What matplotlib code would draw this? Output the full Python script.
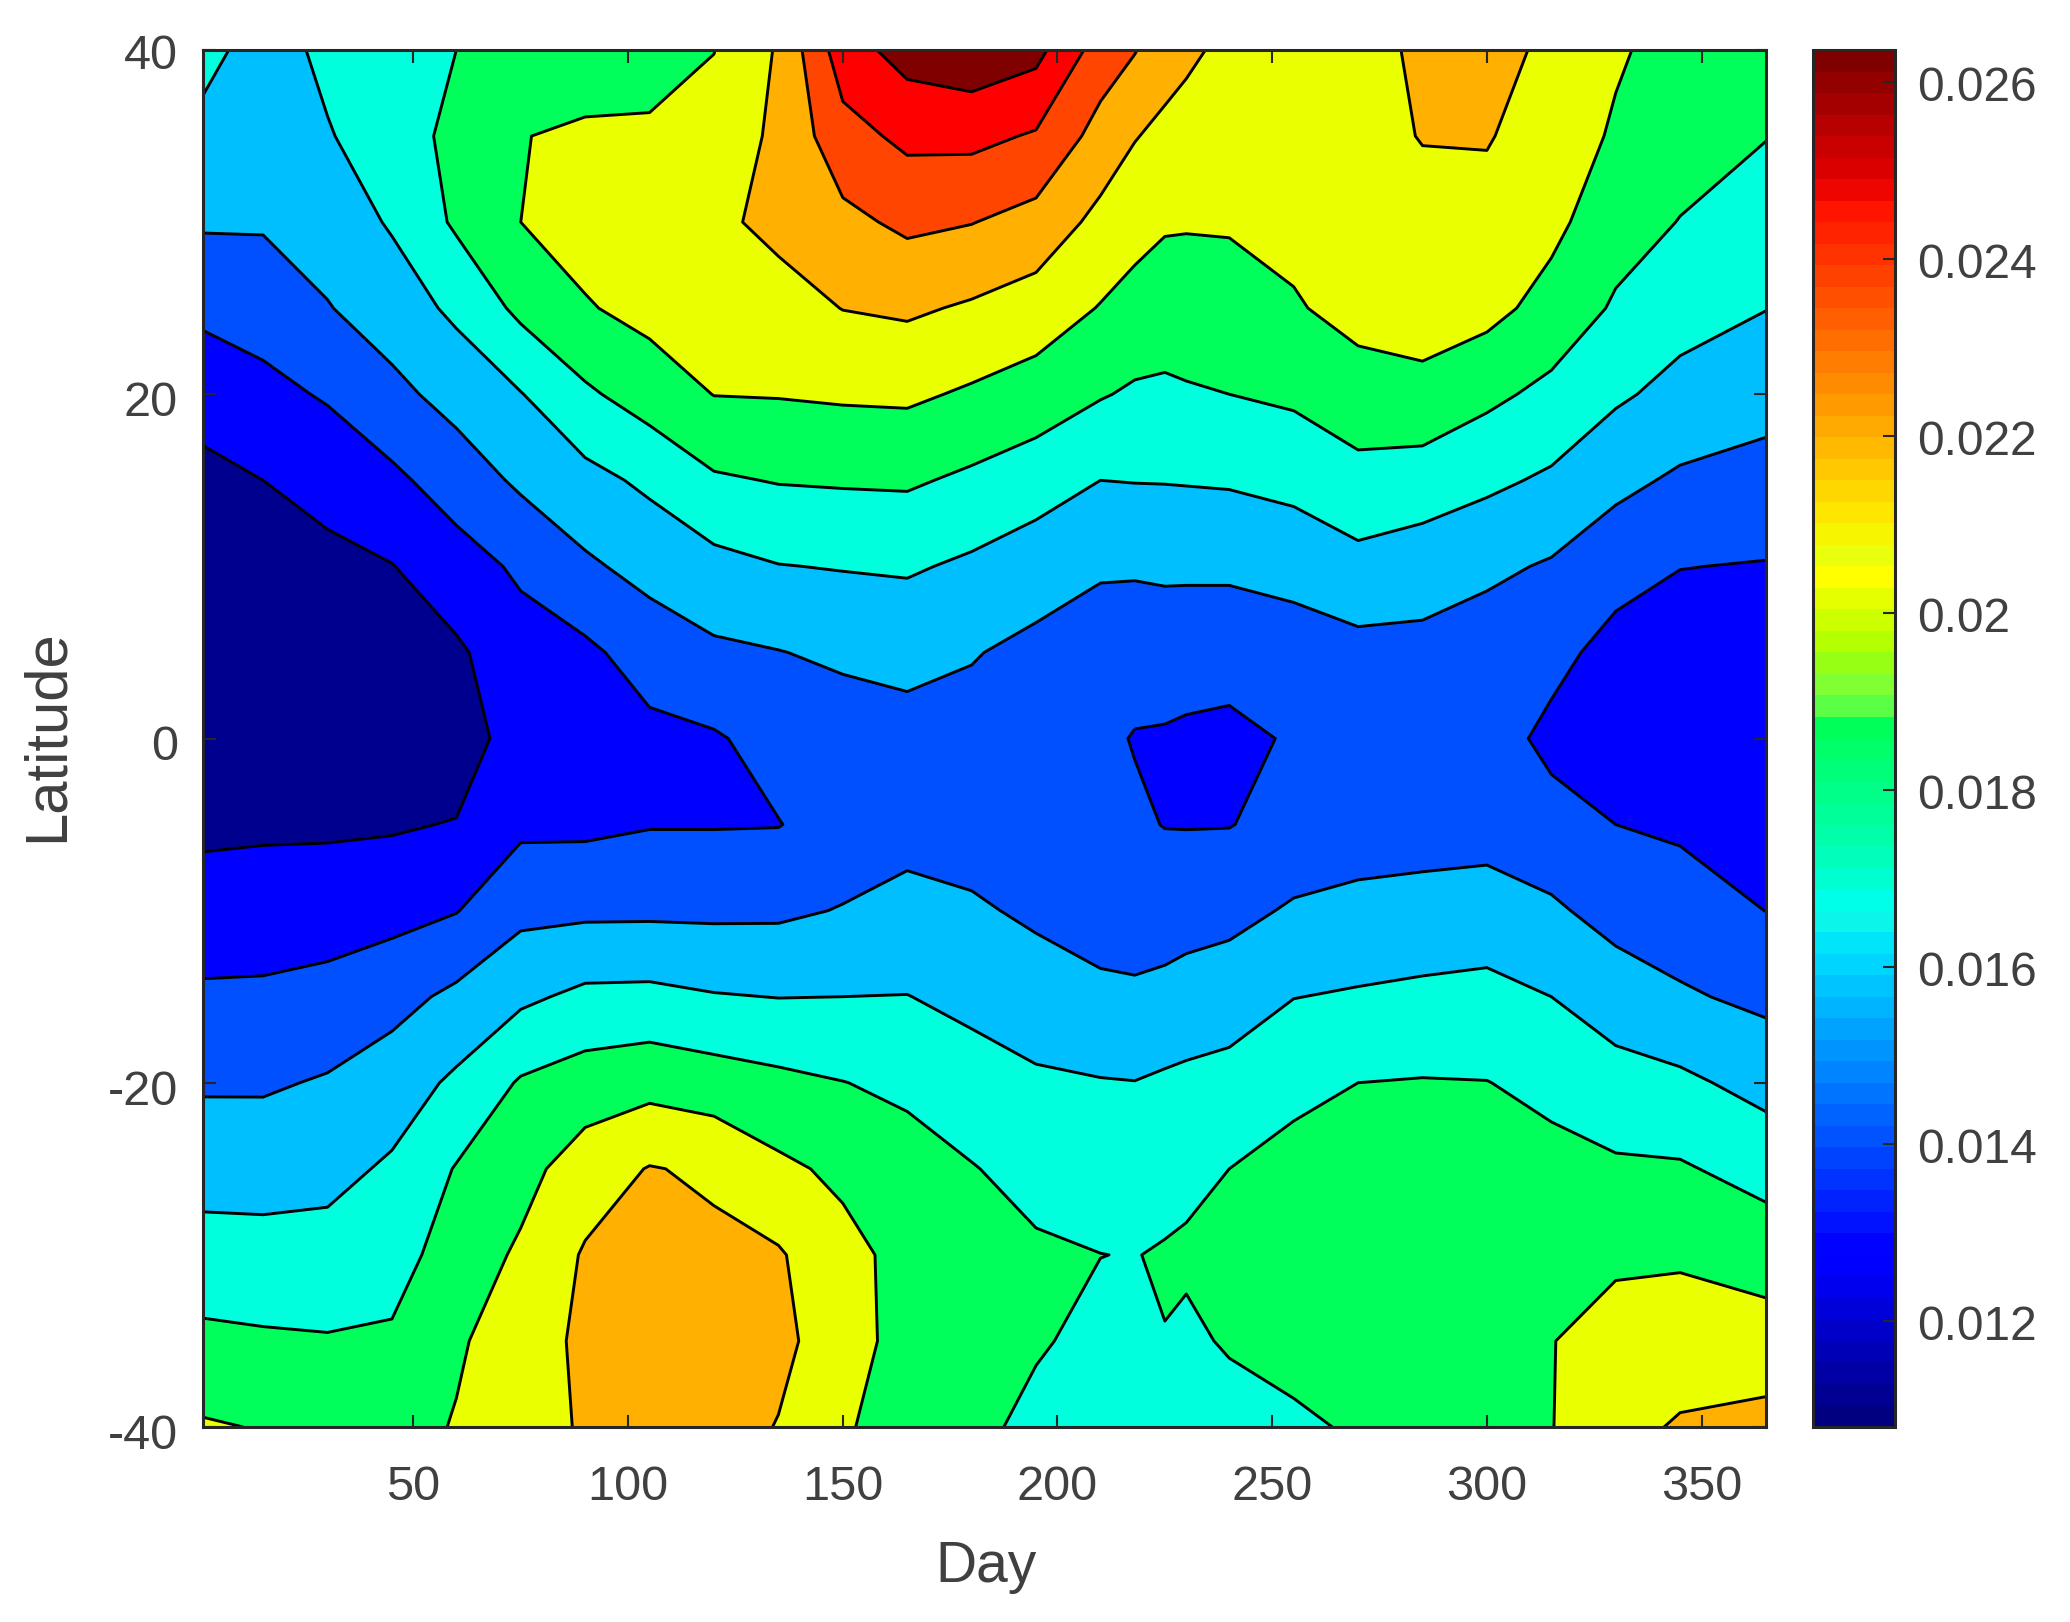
import numpy as np
import matplotlib
matplotlib.use('Agg')
import matplotlib.pyplot as plt
from matplotlib.colors import ListedColormap, to_rgba
from matplotlib.transforms import ScaledTranslation

plt.rcParams['font.family'] = ['Liberation Sans', 'DejaVu Sans']
plt.rcParams['axes.unicode_minus'] = False

# Field, in multiples of the contour step above the minimum
latitude = [40, 35, 30, 25, 20, 15, 10, 5, 0, -5, -10, -15, -20, -25, -30, -35, -40]
days = [1, 15, 30, 45, 60, 75, 90, 105, 120, 135, 150, 165, 180, 195, 210, 218, 225, 230,
        240, 255, 270, 285, 300, 315, 330, 345, 365]

d1 = [4.3, 3.73, 3.11, 2.24, 1.31, 0.79, 0.47, 0.2, 0.3, 0.8, 1.43, 2.15, 2.88, 3.61, 4.39, 5.22, 6.1]
d15 = [3.6, 3.55, 3.1, 2.43, 1.72, 1.0, 0.6, 0.3, 0.3, 0.85, 1.47, 2.17, 2.88, 3.6, 4.35, 5.13, 5.95]
d30 = [4.2, 3.94, 3.45, 2.95, 2.1, 1.33, 0.75, 0.4, 0.4, 0.85, 1.55, 2.31, 3.09, 3.71, 4.36, 5.07, 5.8]
d45 = [4.75, 4.45, 4.1, 3.49, 2.74, 1.79, 0.97, 0.6, 0.6, 0.9, 1.68, 2.67, 3.49, 4.14, 4.62, 5.13, 5.7]
d60 = [5.0, 5.3, 5.15, 4.2, 3.35, 2.46, 1.58, 0.85, 0.4, 1.05, 1.96, 3.21, 4.18, 5.06, 5.44, 5.9, 6.05]
d75 = [5.55, 5.98, 6.0, 5.23, 3.96, 3.17, 2.16, 1.6, 1.55, 1.8, 2.75, 3.81, 5.1, 5.67, 6.15, 6.4, 6.6]
d90 = [5.65, 6.1, 6.4, 5.92, 4.84, 3.7, 2.84, 1.8, 1.6, 1.8, 2.81, 4.22, 5.46, 6.5, 7.1, 7.25, 7.1]
d105 = [5.6, 6.15, 6.5, 6.3, 5.46, 4.19, 3.32, 2.44, 1.75, 1.95, 2.82, 4.25, 5.67, 7.05, 7.4, 7.6, 7.6]
d120 = [5.98, 6.4, 6.8, 6.5, 6.02, 4.88, 3.7, 2.83, 1.9, 1.95, 2.81, 4.06, 5.46, 6.85, 7.2, 7.5, 7.5]
d135 = [7.1, 7.2, 7.25, 6.62, 6.05, 5.05, 3.97, 2.97, 2.35, 1.97, 2.83, 3.98, 5.23, 6.2, 7.1, 7.3, 6.95]
d150 = [9.55, 8.63, 7.75, 7.02, 6.13, 5.1, 4.05, 3.17, 2.5, 2.4, 3.05, 4.0, 5.02, 5.8, 6.3, 6.35, 6.05]
d165 = [10.4, 9.23, 8.2, 7.15, 6.17, 5.13, 4.12, 3.25, 2.7, 2.7, 3.26, 4.02, 4.8, 5.4, 5.7, 5.7, 5.8]
d180 = [10.7, 9.26, 8.03, 6.88, 5.87, 4.82, 3.83, 3.06, 2.65, 2.6, 3.12, 3.75, 4.42, 5.05, 5.3, 5.3, 5.25]
d195 = [10.3, 8.9, 7.65, 6.54, 5.56, 4.45, 3.47, 2.75, 2.45, 2.45, 2.85, 3.42, 4.16, 4.67, 5.15, 5.1, 4.75]
d210 = [8.55, 7.63, 6.72, 5.95, 5.07, 4.0, 3.12, 2.5, 2.2, 2.25, 2.55, 3.22, 4.05, 4.5, 5.01, 4.75, 4.5]
d218 = [8.05, 7.05, 6.35, 5.65, 4.87, 4.03, 3.12, 2.4, 1.95, 2.15, 2.55, 3.15, 4.02, 4.5, 4.97, 4.65, 4.4]
d225 = [7.45, 6.75, 6.1, 5.5, 4.83, 4.04, 3.15, 2.5, 1.9, 1.97, 2.6, 3.23, 4.15, 4.55, 5.1, 4.97, 4.5]
d230 = [7.2, 6.6, 6.07, 5.55, 4.9, 4.06, 3.15, 2.47, 1.82, 1.96, 2.63, 3.37, 4.22, 4.75, 5.15, 4.82, 4.5]
d240 = [6.75, 6.45, 6.1, 5.55, 5.0, 4.1, 3.17, 2.4, 1.75, 1.97, 2.7, 3.57, 4.3, 5.0, 5.3, 5.1, 4.6]
d255 = [6.8, 6.55, 6.3, 5.9, 5.17, 4.28, 3.36, 2.5, 2.1, 2.3, 3.12, 3.98, 4.8, 5.25, 5.4, 5.3, 4.85]
d270 = [6.6, 6.6, 6.45, 6.35, 5.55, 4.7, 3.7, 2.7, 2.3, 2.55, 3.25, 4.1, 5.0, 5.4, 5.55, 5.4, 5.1]
d285 = [7.2, 7.05, 6.6, 6.4, 5.75, 4.5, 3.5, 2.7, 2.4, 2.55, 3.37, 4.2, 5.05, 5.45, 5.65, 5.6, 5.4]
d300 = [7.35, 7.08, 6.6, 6.3, 5.22, 4.2, 3.2, 2.5, 2.45, 2.6, 3.45, 4.28, 5.02, 5.4, 5.6, 5.7, 5.6]
d315 = [6.8, 6.45, 6.25, 5.65, 4.75, 3.85, 2.9, 2.3, 1.75, 2.35, 3.15, 4.0, 4.75, 5.3, 5.6, 5.97, 5.97]
d330 = [6.1, 5.9, 5.4, 4.88, 4.15, 3.25, 2.38, 1.65, 1.4, 2.0, 2.65, 3.5, 4.38, 5.14, 5.83, 6.4, 6.7]
d345 = [5.7, 5.4, 4.97, 4.37, 3.7, 2.85, 2.02, 1.5, 1.3, 1.85, 2.45, 3.12, 4.2, 5.1, 5.87, 6.5, 7.1]
d365 = [5.55, 5.03, 4.53, 4.02, 3.35, 2.65, 1.95, 1.55, 1.4, 1.6, 1.99, 2.78, 3.67, 4.65, 5.55, 6.45, 7.3]

steps = np.column_stack([d1, d15, d30, d45, d60, d75, d90, d105, d120, d135, d150, d165, d180,
                         d195, d210, d218, d225, d230, d240, d255, d270, d285, d300, d315,
                         d330, d345, d365])

cmin = 0.0108
cmax = 0.02636
step = (cmax - cmin) / 11
values = cmin + step * steps
levels = cmin + step * np.arange(12)
band_colors = ['#00008f', '#0000ff', '#0050ff', '#00bfff', '#00ffdc', '#00ff5a',
               '#eaff00', '#ffb000', '#ff4500', '#ff0000', '#800000']

cbar_ticks = [0.012, 0.014, 0.016, 0.018, 0.02, 0.022, 0.024, 0.026]
cbar_labels = ['0.012', '0.014', '0.016', '0.018', '0.02', '0.022', '0.024', '0.026']
day_ticks = [50, 100, 150, 200, 250, 300, 350]
lat_ticks = [-40, -20, 0, 20, 40]

# jet, except the cyan-to-yellow stretch of the bar, which has its own steps
bar_colors = plt.get_cmap('jet', 64)(np.arange(64))
green_part = ['#00ffe8', '#00ffd0', '#00ffbb', '#00ffa8', '#00ff98', '#00ff88', '#00ff78',
              '#00ff68', '#00ff58', '#5aff46', '#80ff32', '#96ff14', '#b4ff00', '#ccff00',
              '#e6ff00', '#ffff00']
for i, c in enumerate(green_part):
    bar_colors[24 + i] = to_rgba(c)

W, H = 2070, 1622
text_color = '#404040'
edge_color = '#262626'

fig = plt.figure(figsize=(W / 100, H / 100), dpi=100)
ax = fig.add_axes([203 / W, 1 - 1427 / H, (1766 - 203) / W, (1427 - 50) / H])
cax = fig.add_axes([1813 / W, 1 - 1427 / H, (1895 - 1813) / W, (1427 - 50) / H])

ax.contourf(days, latitude, values, levels=levels, colors=band_colors)
ax.contour(days, latitude, values, levels=levels[1:-1], colors='k', linewidths=2.1)
ax.set_xlim(1, 365)
ax.set_ylim(-40, 40)
ax.set_xticks(day_ticks)
ax.set_yticks(lat_ticks)
ax.tick_params(direction='in', top=True, right=True, length=9, width=1.5, color=edge_color,
               labelsize=35, labelcolor=text_color)
ax.tick_params(axis='x', pad=27)
ax.tick_params(axis='y', pad=18)
for s in ax.spines.values():
    s.set_linewidth(2.2)
    s.set_color(edge_color)
# the labels sit a little under their ticks, the top one less so
for lbl, drop in zip(ax.get_yticklabels(), [3.2, 3.2, 3.2, 3.2, 1.0]):
    lbl.set_transform(lbl.get_transform() + ScaledTranslation(0, -drop / 72, fig.dpi_scale_trans))

sm = plt.cm.ScalarMappable(norm=plt.Normalize(cmin, cmax), cmap=ListedColormap(bar_colors))
cb = fig.colorbar(sm, cax=cax)
cb.set_ticks(cbar_ticks)
cb.set_ticklabels(cbar_labels)
cax.tick_params(direction='in', length=9, width=1.5, color=edge_color, labelsize=34.5,
                labelcolor=text_color, pad=16)
cb.outline.set_linewidth(2.2)
cb.outline.set_edgecolor(edge_color)
for lbl in cax.get_yticklabels():
    lbl.set_transform(lbl.get_transform() + ScaledTranslation(0, -1 / 72, fig.dpi_scale_trans))

fig.text(986 / W, 1 - 1567 / H, 'Day', fontsize=41, color=text_color, ha='center', va='center')
fig.text(47 / W, 1 - 736 / H, 'Latitude', fontsize=43, color=text_color, rotation=90,
         ha='center', va='center')

fig.savefig('out.png', dpi=100)
